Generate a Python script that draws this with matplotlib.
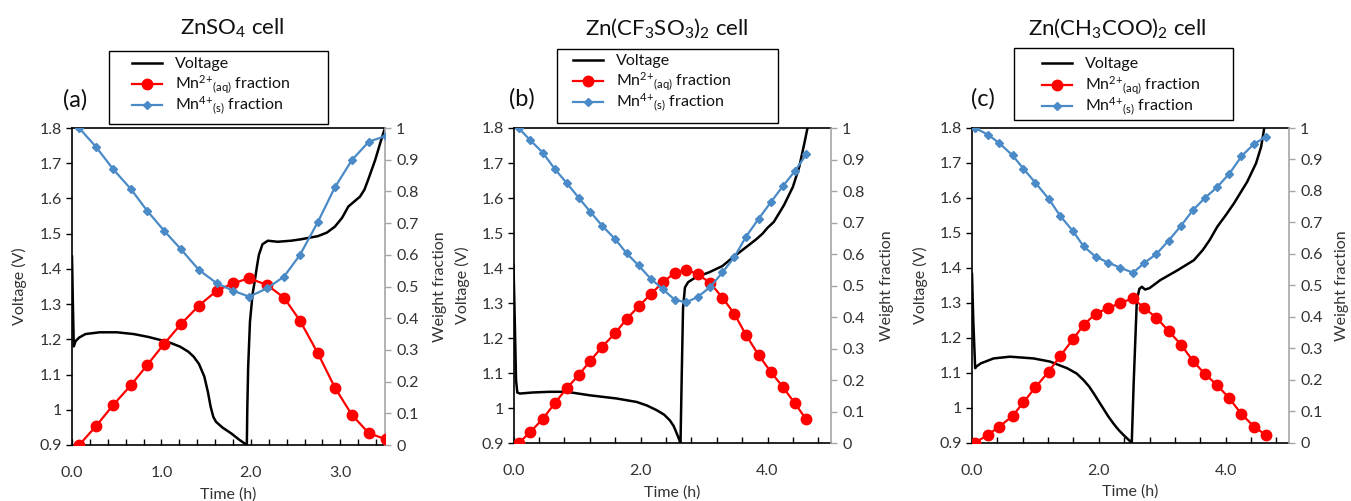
import numpy as np
import matplotlib
matplotlib.use("Agg")
import matplotlib.pyplot as plt
from matplotlib.ticker import MultipleLocator, FormatStrFormatter, FuncFormatter
from matplotlib.lines import Line2D
from matplotlib.patches import Rectangle

plt.rcParams["font.family"] = ["Lato", "DejaVu Sans"]
plt.rcParams["mathtext.fontset"] = "custom"
plt.rcParams["mathtext.rm"] = "Lato"
plt.rcParams["mathtext.it"] = "Lato"
plt.rcParams["mathtext.default"] = "regular"

# ── Data ────────────────────────────────────────────────────────────────
# (a) ZnSO4
a_vt = [0.0, 0.01, 0.02, 0.04, 0.08, 0.15, 0.31, 0.5, 0.69, 0.85, 0.99, 1.1, 1.21,
        1.3, 1.36, 1.42, 1.48, 1.52, 1.55, 1.58, 1.61, 1.68, 1.78, 1.87, 1.955,
        1.96, 1.97, 1.99, 2.02, 2.04, 2.07, 2.09, 2.13, 2.19, 2.30, 2.45, 2.56,
        2.75, 2.85, 2.94, 3.02, 3.09, 3.15, 3.22, 3.27, 3.31, 3.39, 3.45, 3.50]
a_v = [1.435, 1.30, 1.18, 1.195, 1.205, 1.215, 1.220, 1.220, 1.215, 1.207, 1.198,
       1.19, 1.179, 1.165, 1.151, 1.13, 1.094, 1.05, 1.009, 0.98, 0.966, 0.95,
       0.933, 0.915, 0.900, 1.0, 1.122, 1.25, 1.33, 1.36, 1.41, 1.44, 1.47, 1.48,
       1.477, 1.48, 1.484, 1.493, 1.503, 1.520, 1.545, 1.577, 1.59, 1.605, 1.625,
       1.652, 1.709, 1.76, 1.80]
a_ft = [0.08, 0.27, 0.46, 0.66, 0.84, 1.03, 1.22, 1.42, 1.62, 1.80, 1.98, 2.18,
        2.37, 2.55, 2.75, 2.94, 3.13, 3.32, 3.51]
a_mn2 = [0, 0.06, 0.126, 0.189, 0.252, 0.319, 0.382, 0.44, 0.487, 0.51, 0.526,
         0.505, 0.465, 0.392, 0.289, 0.181, 0.095, 0.037, 0.018]
a_mn4 = [1.0, 0.94, 0.87, 0.807, 0.739, 0.676, 0.617, 0.552, 0.51, 0.487, 0.468,
         0.494, 0.531, 0.60, 0.704, 0.813, 0.899, 0.957, 0.975]

# (b) Zn(CF3SO3)2
b_vt = [0.0, 0.02, 0.04, 0.06, 0.1, 0.3, 0.57, 0.84, 1.2, 1.62, 1.94, 2.1, 2.25,
        2.37, 2.46, 2.52, 2.56, 2.60, 2.63, 2.65, 2.67, 2.70, 2.75, 2.87, 3.08,
        3.29, 3.45, 3.55, 3.70, 3.82, 3.92, 4.0, 4.10, 4.26, 4.40, 4.50, 4.58, 4.63]
b_v = [1.41, 1.25, 1.08, 1.045, 1.042, 1.045, 1.047, 1.047, 1.037, 1.028, 1.018,
       1.008, 0.995, 0.982, 0.966, 0.950, 0.933, 0.915, 0.90, 1.10, 1.286, 1.345,
       1.36, 1.374, 1.388, 1.406, 1.43, 1.444, 1.465, 1.482, 1.498, 1.515, 1.532,
       1.580, 1.632, 1.689, 1.756, 1.80]
b_ft = [0.08, 0.26, 0.46, 0.65, 0.84, 1.03, 1.21, 1.40, 1.60, 1.78, 1.97, 2.16,
        2.35, 2.54, 2.72, 2.90, 3.10, 3.29, 3.48, 3.66, 3.86, 4.05, 4.24, 4.43, 4.61]
b_mn2 = [0, 0.035, 0.077, 0.127, 0.175, 0.217, 0.262, 0.307, 0.349, 0.394, 0.434,
         0.473, 0.51, 0.541, 0.55, 0.537, 0.508, 0.462, 0.41, 0.344, 0.28, 0.227,
         0.179, 0.127, 0.076]
b_mn4 = [1.0, 0.962, 0.922, 0.87, 0.825, 0.778, 0.734, 0.689, 0.648, 0.603, 0.564,
         0.522, 0.489, 0.455, 0.447, 0.464, 0.496, 0.542, 0.591, 0.655, 0.712,
         0.764, 0.815, 0.863, 0.916]

# (c) Zn(CH3COO)2
c_vt = [0.0, 0.02, 0.05, 0.07, 0.14, 0.34, 0.60, 0.97, 1.23, 1.50, 1.65, 1.76,
        1.85, 1.92, 2.0, 2.07, 2.15, 2.23, 2.31, 2.39, 2.46, 2.52, 2.55, 2.60,
        2.64, 2.68, 2.73, 2.80, 2.97, 3.24, 3.50, 3.64, 3.75, 3.87, 4.00, 4.13,
        4.34, 4.48, 4.56, 4.61]
c_v = [1.383, 1.25, 1.113, 1.118, 1.127, 1.141, 1.146, 1.141, 1.132, 1.113, 1.098,
       1.079, 1.06, 1.041, 1.018, 0.998, 0.975, 0.955, 0.937, 0.922, 0.91, 0.90,
       1.07, 1.308, 1.34, 1.346, 1.338, 1.342, 1.365, 1.393, 1.422, 1.451, 1.48,
       1.518, 1.55, 1.584, 1.646, 1.699, 1.746, 1.80]
c_ft = [0.05, 0.25, 0.43, 0.64, 0.81, 1.0, 1.21, 1.39, 1.59, 1.76, 1.95, 2.15,
        2.34, 2.54, 2.71, 2.91, 3.10, 3.30, 3.48, 3.67, 3.86, 4.06, 4.25, 4.45, 4.63]
c_mn2 = [0, 0.025, 0.051, 0.085, 0.128, 0.176, 0.226, 0.275, 0.328, 0.374, 0.41,
         0.428, 0.444, 0.459, 0.429, 0.397, 0.355, 0.311, 0.261, 0.219, 0.184,
         0.141, 0.091, 0.051, 0.025]
c_mn4 = [1.0, 0.979, 0.952, 0.913, 0.871, 0.826, 0.775, 0.721, 0.673, 0.624, 0.591,
         0.572, 0.556, 0.540, 0.570, 0.600, 0.642, 0.690, 0.738, 0.777, 0.811,
         0.855, 0.910, 0.950, 0.971]

titles = [r"ZnSO$_4$ cell", r"Zn(CF$_3$SO$_3$)$_2$ cell", r"Zn(CH$_3$COO)$_2$ cell"]
panel_tags = ["(a)", "(b)", "(c)"]
legend_labels = ["Voltage", r"Mn$^{2{+}}{}_{(aq)}$ fraction", r"Mn$^{4{+}}{}_{(s)}$ fraction"]
xmax = [3.5, 5.0, 5.0]
xminor = [0.2, 0.4, 0.4]
xmajor = [1.0, 2.0, 2.0]

W, H = 1351, 501
RED = "#ff0000"
BLUE = "#4a8ac6"
GRAY = "#a6a6a6"
TXT = "#333333"

# layout in pixels
boxes = [(72, 385, 128, 445), (513.5, 831, 128, 443.3), (972, 1289, 128, 442.7)]
title_x = [232, 667, 1117]
tag_pos = [(75, 100), (522, 99), (983, 99)]
leg_box = [(109, 51, 328, 124), (557, 49, 778, 123), (1014, 48, 1233, 120)]
leg_handle_x = [132, 573, 1042]
leg_rows = [(63, 84, 105), (60, 81, 102), (63, 85, 106)]
ylab_x = [-0.144, -0.137, -0.139]
ylab2_x = [1.153, 1.154, 1.145]

panels = [(a_vt, a_v, a_ft, a_mn2, a_mn4),
          (b_vt, b_v, b_ft, b_mn2, b_mn4),
          (c_vt, c_v, c_ft, c_mn2, c_mn4)]


def trim(y, p):
    return f"{y:.1f}".rstrip("0").rstrip(".")


def fx(px):
    return px / W


def fy(py):
    return 1 - py / H


fig = plt.figure(figsize=(W / 100, H / 100), dpi=100)

for i, (vt, v, ft, mn2, mn4) in enumerate(panels):
    l, r, t, b = boxes[i]
    ax = fig.add_axes([fx(l), fy(b), (r - l) / W, (b - t) / H])
    ax2 = ax.twinx()

    ax.plot(vt, v, color="black", lw=1.8, zorder=3)
    ax2.plot(ft, mn2, "o-", color=RED, lw=1.6, markersize=7.5, zorder=4)
    ax2.plot(ft, mn4, "D-", color=BLUE, lw=1.6, markersize=4.5, zorder=4)

    ax.set_xlim(0, xmax[i])
    ax.set_ylim(0.9, 1.8)
    ax2.set_ylim(0, 1.0)

    ax.xaxis.set_major_locator(MultipleLocator(xmajor[i]))
    ax.xaxis.set_minor_locator(MultipleLocator(xminor[i]))
    ax.xaxis.set_major_formatter(FormatStrFormatter("%.1f"))
    ax.yaxis.set_major_locator(MultipleLocator(0.1))
    ax.yaxis.set_major_formatter(FuncFormatter(trim))
    ax2.yaxis.set_major_locator(MultipleLocator(0.1))
    ax2.yaxis.set_major_formatter(FuncFormatter(trim))

    ax.tick_params(axis="x", which="both", direction="in", length=4, width=1,
                   pad=15, labelsize=11.5, color="black", labelcolor=TXT)
    ax.tick_params(axis="y", direction="out", length=4, width=1, pad=3,
                   labelsize=11.5, labelcolor=TXT)
    ax2.tick_params(axis="y", direction="out", length=4, width=1, pad=4,
                    labelsize=11.5, color=GRAY, labelcolor=TXT)

    for s in ["left", "bottom", "top"]:
        ax.spines[s].set_color("black")
        ax.spines[s].set_linewidth(1.2)
        ax2.spines[s].set_visible(False)
    ax.spines["right"].set_visible(False)
    ax2.spines["right"].set_color(GRAY)
    ax2.spines["right"].set_linewidth(1.2)

    ax.set_xlabel("Time (h)", fontsize=11.5, color=TXT)
    ax.xaxis.set_label_coords(0.5, -0.133)
    ax.set_ylabel("Voltage (V)", fontsize=11.5, color=TXT)
    ax.yaxis.set_label_coords(ylab_x[i], 0.5)
    ax2.set_ylabel("Weight fraction", fontsize=11.5, color=TXT)
    ax2.yaxis.set_label_coords(ylab2_x[i], 0.5)

    fig.text(fx(title_x[i]), fy(28), titles[i], fontsize=16,
             ha="center", va="center", color="#111111")
    fig.text(fx(tag_pos[i][0]), fy(tag_pos[i][1]), panel_tags[i], fontsize=17,
             ha="center", va="center", color="#111111")

    # legend: framed box with hand-placed entries
    bx0, by0, bx1, by1 = leg_box[i]
    fig.patches.append(Rectangle((fx(bx0), fy(by1)), (bx1 - bx0) / W, (by1 - by0) / H,
                                 transform=fig.transFigure, facecolor="white",
                                 edgecolor="black", lw=1.0, zorder=9))
    styles = [dict(color="black", lw=1.8),
              dict(color=RED, lw=1.6, marker="o", markersize=7.5),
              dict(color=BLUE, lw=1.6, marker="D", markersize=4.5)]
    hx = leg_handle_x[i]
    for row_y, lab, st in zip(leg_rows[i], legend_labels, styles):
        line = Line2D([fx(hx), fx(hx + 30)], [fy(row_y), fy(row_y)],
                      transform=fig.transFigure, zorder=10, **st)
        if "marker" in st:
            line.set_markevery([])
            fig.add_artist(Line2D([fx(hx + 15)], [fy(row_y)], transform=fig.transFigure,
                                  zorder=10, linestyle="none", **{k: v for k, v in st.items() if k != "lw"}))
        fig.add_artist(line)
        fig.text(fx(hx + 43), fy(row_y + 5), lab, fontsize=11.5, ha="left",
                 va="baseline", color="#111111", zorder=10)

fig.savefig("out.png", dpi=100)
